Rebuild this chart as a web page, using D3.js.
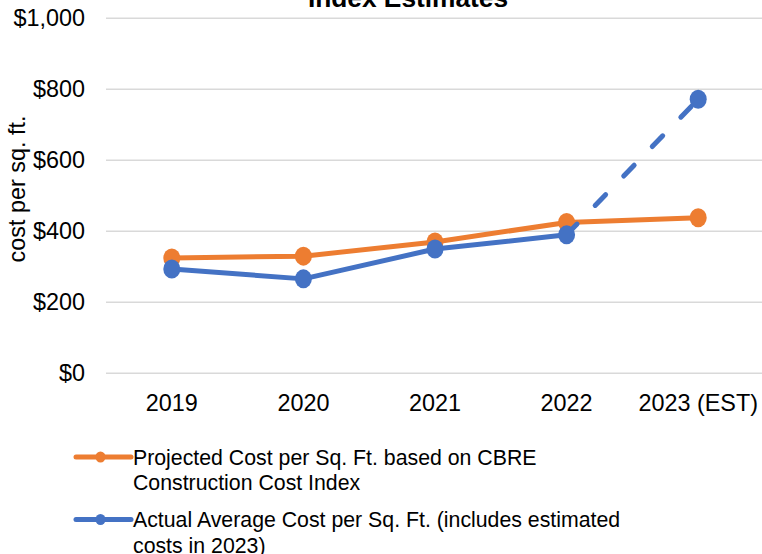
<!DOCTYPE html>
<html><head><meta charset="utf-8">
<script src="https://cdn.jsdelivr.net/npm/d3@7"></script>
<style>
html,body{margin:0;padding:0;background:#fff;}
svg{display:block;font-family:Arial,"Liberation Sans",sans-serif;}
</style></head>
<body><svg id="c" width="762" height="554"></svg>
<script>
const categories = ["2019","2020","2021","2022","2023 (EST)"];
const projected = [325, 330, 370, 425, 438];
const actual = [294, 266, 350, 390, 772];
const yTicks = [0, 200, 400, 600, 800, 1000];
const seriesNames = ["Projected Cost per Sq. Ft. based on CBRE|Construction Cost Index",
                     "Actual Average Cost per Sq. Ft. (includes estimated|costs in 2023)"];
const colors = ["#ED7D31", "#4472C4"];

const svg = d3.select("#c");
const x = d3.scaleBand().domain(categories).range([106, 764]);
const y = d3.scaleLinear().domain([0, 1000]).range([373.3, 18.3]);
const cx = d => x(d) + x.bandwidth() / 2;
const fmt = v => "$" + d3.format(",")(v);
const axisFont = 23.4;

// title (cropped at top edge in the reference)
svg.append("text").attr("x", 408).attr("y", 6.5)
  .attr("text-anchor", "middle").attr("font-weight", "bold").attr("font-size", 26.3)
  .text("Index Estimates");

// gridlines
svg.append("g").selectAll("line").data(yTicks).join("line")
  .attr("x1", 106).attr("x2", 762).attr("y1", d => y(d)).attr("y2", d => y(d))
  .attr("stroke", "#d9d9d9").attr("stroke-width", 1.5);

// y tick labels
svg.append("g").selectAll("text").data(yTicks).join("text")
  .attr("x", 85).attr("y", d => y(d))
  .attr("text-anchor", "end").attr("dominant-baseline", "central")
  .attr("font-size", axisFont).attr("fill", "#000")
  .text(fmt);

// x labels
svg.append("g").selectAll("text").data(categories).join("text")
  .attr("x", d => cx(d)).attr("y", 403)
  .attr("text-anchor", "middle").attr("dominant-baseline", "central")
  .attr("font-size", axisFont)
  .text(d => d);

// y axis label
svg.append("text").attr("transform", "translate(17,189) rotate(-90)")
  .attr("text-anchor", "middle").attr("dominant-baseline", "central")
  .attr("font-size", axisFont).text("cost per sq. ft.");

const line = d3.line().x(d => cx(d.c)).y(d => y(d.v));
const pts = arr => categories.map((c, i) => ({c, v: arr[i]}));

// projected series
const pP = pts(projected);
svg.append("path").attr("d", line(pP)).attr("fill", "none")
  .attr("stroke", colors[0]).attr("stroke-width", 5).attr("stroke-linejoin", "round");
svg.append("g").selectAll("ellipse").data(pP).join("ellipse")
  .attr("cx", d => cx(d.c)).attr("cy", d => y(d.v)).attr("rx", 8.5).attr("ry", 9.5)
  .attr("fill", colors[0]);

// actual series
const pA = pts(actual);
svg.append("path").attr("d", line(pA.slice(0, 4))).attr("fill", "none")
  .attr("stroke", colors[1]).attr("stroke-width", 5).attr("stroke-linejoin", "round");
svg.append("path").attr("d", line(pA.slice(3))).attr("fill", "none")
  .attr("stroke", colors[1]).attr("stroke-width", 5).attr("stroke-linecap", "round")
  .attr("stroke-dasharray", "15 26");
svg.append("g").selectAll("ellipse").data(pA).join("ellipse")
  .attr("cx", d => cx(d.c)).attr("cy", d => y(d.v)).attr("rx", 8.5).attr("ry", 9.5)
  .attr("fill", colors[1]);

// legend
const legY = [457, 519.5];
const sy = 1.05;
seriesNames.forEach((name, i) => {
  const g = svg.append("g");
  g.append("line").attr("x1", 76).attr("x2", 131).attr("y1", legY[i]).attr("y2", legY[i])
    .attr("stroke", colors[i]).attr("stroke-width", 5).attr("stroke-linecap", "round");
  g.append("ellipse").attr("cx", 100.5).attr("cy", legY[i]).attr("rx", 5).attr("ry", 5.5)
    .attr("fill", colors[i]);
  name.split("|").forEach((t, j) => {
    const ty = legY[i] + j * 25.5;
    g.append("text").attr("x", 133).attr("y", ty)
      .attr("dominant-baseline", "central").attr("font-size", 21.3)
      .attr("transform", `translate(0,${ty}) scale(1,${sy}) translate(0,${-ty})`)
      .text(t);
  });
});
</script></body></html>
